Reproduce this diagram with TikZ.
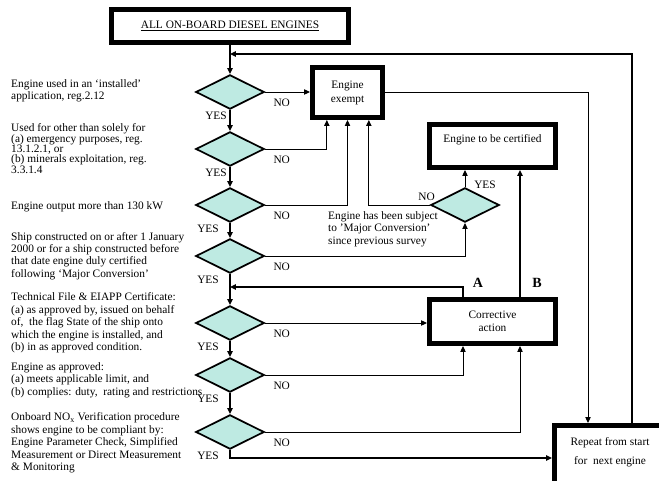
\documentclass[tikz,border=0pt]{standalone}
\usepackage{fontspec}
\setmainfont{Liberation Serif}
\usetikzlibrary{shapes.geometric, arrows.meta, positioning}
\definecolor{dfill}{RGB}{190,234,226}
\newcommand{\tightlines}{\fontsize{9.7}{8.8}\selectfont\lineskiplimit=-20pt\relax}

\begin{document}
\begin{tikzpicture}[
	x=0.03cm, y=-0.03cm,
	font=\fontsize{9.7}{10.6}\selectfont,
	block/.style={rectangle, draw, line width=4pt, align=center, inner sep=0pt},
	decision/.style={diamond, draw, line width=1.5pt, fill=dfill,
		minimum width=2.05cm, minimum height=1.03cm, inner sep=0pt},
	note/.style={anchor=west, align=left, inner sep=0pt},
	tag/.style={inner sep=0pt},
	line/.style={draw, line width=0.8pt, -{Triangle[length=5pt,width=4.5pt]}},
	main/.style={line, line width=1.4pt},
	]
	\clip (0,0) rectangle (659,481);

	\node[block, minimum width=7.12cm, minimum height=1.0cm] (start) at (230,26) {\underline{ALL ON-BOARD DIESEL ENGINES}};
	\node[block, minimum width=2.11cm, minimum height=1.51cm, font=\fontsize{9.7}{12}\selectfont] (exempt) at (347.5,92.5) {Engine\\exempt};
	\node[block, minimum width=3.79cm, minimum height=1.30cm, text height=7pt, text depth=12.4pt] (cert) at (492.5,146) {Engine to be certified};
	\node[block, minimum width=3.79cm, minimum height=1.33cm] (corr) at (492.5,321.5) {Corrective\\action};
	\node[block, anchor=north west, minimum width=4.1cm, minimum height=2.6cm] (repeat) at (552,423) {};
	\node[align=center, font=\fontsize{9.7}{16}\selectfont] (repeattxt) at (610,452) {Repeat from start\\for~ next engine};

	% questions
	\foreach \n/\y/\yx in {1/92/-0.42, 2/149/-0.42, 3/205/-0.66, 4/256/-0.66, 5/323/-0.66, 6/375/-0.66, 7/432/-0.66}{
		\node[decision] (d\n) at (230,\y) {};
		\node[tag] (yes\n) at ([xshift=\yx cm, yshift=-0.18cm]d\n.south) {YES};
		\node[tag] (no\n) at ([xshift=0.5cm, yshift=-0.33cm]d\n.east) {NO};
	}
	\node[decision] (dm) at (465,205) {};
	\node[tag] (nom) at ([xshift=-0.1cm, yshift=0.24cm]dm.west) {NO};
	\node[tag] (yesm) at ([xshift=0.6cm, yshift=0.06cm]dm.north) {YES};
	\node[note] (mctxt) at (328,229) {Engine has been subject\\to 'Major Conversion'\\since previous survey};

	\node[tag, font=\fontsize{12}{14}\selectfont\bfseries] (labA) at ([xshift=-0.44cm, yshift=0.42cm]corr.north) {A};
	\node[tag, font=\fontsize{12}{14}\selectfont\bfseries] (labB) at ([xshift=1.34cm, yshift=0.42cm]corr.north) {B};

	% conditions
	\node[note] (t1) at (11,91) {Engine used in an `installed'\\application, reg.2.12};
	\node[note, font=\tightlines] (t2) at (11,148.5) {Used for other than solely for\\(a) emergency purposes, reg.\\13.1.2.1, or\\(b) minerals exploitation, reg.\\3.3.1.4};
	\node[note] (t3) at (11,207) {Engine output more than 130 kW};
	\node[note] (t4) at (11,256) {Ship constructed on or after 1 January\\2000 or for a ship constructed before\\that date engine duly certified\\following `Major Conversion'};
	\node[note] (t5) at (11,323) {Technical File \& EIAPP Certificate:\\(a) as approved by, issued on behalf\\of,~ the flag State of the ship onto\\which the engine is installed, and\\(b) in as approved condition.};
	\node[note] (t6) at (11,380) {Engine as approved:\\(a) meets applicable limit, and\\(b) complies: duty,~ rating and restrictions};
	\node[note] (t7) at (11,443) {Onboard NO\textsubscript{x} Verification procedure\\shows engine to be compliant by:\\Engine Parameter Check, Simplified\\Measurement or Direct Measurement\\\& Monitoring};

	\coordinate (j1) at (230,54);
	\coordinate (j2) at (230,287);

	%arrows
	\draw[main] (start.south) -- (d1.north);
	\foreach \a/\b in {1/2, 2/3, 3/4, 4/5, 5/6, 6/7}
		\draw[main] (d\a.south) -- (d\b.north);
	\draw[line] (d1.east) -- (d1.east -| exempt.west);
	\draw[line] (d2.east) -| ([xshift=-0.62cm]exempt.south);
	\draw[line] (d3.east) -| (exempt.south);
	\draw[line] (dm.west) -| ([xshift=0.64cm]exempt.south);
	\draw[line] (d4.east) -| (dm.south);
	\draw[line] (dm.north) -- (dm.north |- cert.south);
	\draw[main] ([xshift=0.825cm]corr.north) -- ([xshift=0.825cm]cert.south);
	\draw[main] ([xshift=-0.885cm]corr.north) |- (j2);
	\draw[line] (d5.east) -- (d5.east -| corr.west);
	\draw[line] (d6.east) -| ([xshift=-0.885cm]corr.south);
	\draw[line] (d7.east) -| ([xshift=0.825cm]corr.south);
	\draw[main] (d7.south) |- ([yshift=-1.05cm]repeat.north west);
	\draw[line] (exempt.east) -| ([xshift=1.08cm]repeat.north west);
	\draw[main] ([xshift=2.4cm]repeat.north west) |- (j1);
\end{tikzpicture}
\end{document}
